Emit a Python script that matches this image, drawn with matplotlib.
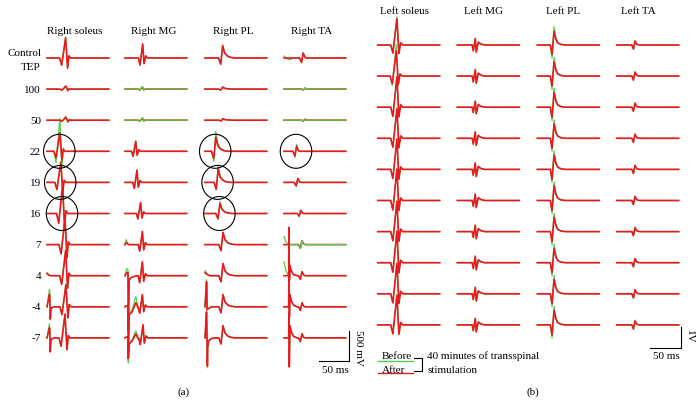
"""Transspinal TEP recordings before/after 40 min stimulation (right & left leg)."""

import numpy as np
import matplotlib

matplotlib.use("Agg")
import matplotlib.pyplot as plt
from matplotlib.patches import Ellipse
from matplotlib.transforms import Affine2D

RED = "#e8191f"
GREEN = "#4fd04a"
FONT = "Liberation Serif"
LW_RED, LW_GREEN = 1.2, 0.9

# ---------------------------------------------------------------- data (a)
RIGHT_ROWS = ["Control", "100", "50", "22", "19", "16", "7", "4", "-4", "-7"]
RIGHT_LABELS = ["Control\nTEP", "100", "50", "22", "19", "16", "7", "4", "-4", "-7"]
RIGHT_MUSCLES = ["Right soleus", "Right MG", "Right PL", "Right TA"]

# response shapes: ms relative to main peak, normalised amplitude
SOL_T = [-10, -6.5, 0, 3.3, 5.5, 8.5]
SOL_V = [0, -0.35, 1, -0.5, 0.1, 0]
MG_T = [-7, -4.5, 0, 2.2, 5, 8]
MG_V = [0, -0.5, 1, -0.4, 0.15, 0]
PL_T = [-7, -3.3, 0, 3.3, 8, 13, 20]
PL_V = [0, -0.5, 1, 0.4, 0.15, 0.05, 0]
TA_T = [-6, -2.7, 0, 3, 6]
TA_V = [0, -0.9, 1, 0.1, 0]

# peak amplitudes (mV) and latencies (ms) per row
R_SOL_AFTER = [330, 50, 50, 300, 330, 460, 430, 410, 360, 390]
R_SOL_BEFORE = [345, 50, 65, 540, 345, 410, 430, 410, 380, 390]
R_SOL_LAT = [31, 31.5, 31.5, 21.5, 23, 26, 30, 31, 31.5, 30]
R_MG_AFTER = [230, 33, 33, 165, 200, 180, 215, 230, 200, 215]
R_MG_BEFORE = [230, 41, 41, 165, 200, 180, 215, 230, 200, 215]
R_MG_LAT = [29.5, 29, 29, 18, 20, 26, 29, 29, 29, 30]
R_PL_AFTER = [200, 33, 25, 230, 215, 165, 200, 200, 200, 200]
R_PL_BEFORE = [215, 33, 25, 330, 260, 200, 200, 200, 200, 200]
R_PL_LAT = [29.5, 29.5, 30, 18, 22, 25, 30, 30, 30, 30]
R_TA_AFTER = [82, 16, 16, 82, 66, 50, 66, 66, 66, 66]
R_TA_BEFORE = [82, 16, 8, 115, 66, 50, 66, 66, 66, 66]
R_TA_LAT = [32, 35, 35, 21, 23, 28, 30, 30, 30, 30]

# stimulus artifacts: row -> (ms from trace start, after mV, before mV)
R_SOL_ART = {
    "4": ([0, 3, 6], [33, 8, 0], [50, 16, 0]),
    "-4": ([0, 4, 4.5, 5.5, 6.5, 8, 12],
           [0, 200, 200, -200, -50, -16, 0], [0, 280, 280, -215, -50, -16, 0]),
    "-7": ([0, 4, 4.5, 5.5, 6.5, 8, 12],
           [0, 165, 150, -230, -50, -16, 0], [0, 230, 200, -200, -50, -16, 0]),
}
R_MG_ART = {
    "7": ([0, 2, 4, 6], [0, 33, 16, 0], [0, 82, 33, 0]),
    "4": ([0, 3, 5, 5.5, 7, 10, 14, 20],
          [0, 50, 50, -900, -66, -33, -16, 0], [0, 115, 100, -900, -66, -33, -16, 0]),
    "-4": ([0, 3, 5, 5.5, 7, 12, 18, 22, 26],
           [0, 16, 16, -850, -130, -82, 66, -16, 0], [0, 16, 16, -820, -100, -50, 165, 0, 0]),
    "-7": ([0, 3, 5, 5.5, 7, 12, 18, 22, 26],
           [0, 16, 16, -330, -100, -50, 66, -16, 0], [0, 16, 16, -410, -82, -33, 115, 0, 0]),
}
R_PL_ART = {
    "4": ([0, 4, 8], [50, 16, 0], [82, 25, 0]),
    "-4": ([0, 2.5, 3, 3.5, 5, 8, 12],
           [0, 410, 330, -50, -33, -16, 0], [0, 443, 360, -50, -33, -16, 0]),
    "-7": ([0, 2.5, 3, 4, 4.5, 6, 10, 14],
           [0, 426, 250, -460, -165, -50, -16, 0], [0, 426, 250, -490, -165, -50, -16, 0]),
}
R_TA_ART = {
    "Control": ([0, 2, 5, 10, 14, 18], [0, 0, 0, 0, 0, 0], [33, 16, -16, -25, -8, 0]),
    "7": ([0, 3, 6, 10], [0, 0, 0, 0], [130, 50, 16, 0]),
    "4": ([0, 3, 6, 7.8, 8.2, 9, 10, 12, 16, 22],
          [0, 0, 0, 0, 790, -80, 165, 82, 16, 0], [230, 82, 25, 8, 790, -80, 165, 82, 16, 0]),
    "-4": ([0, 7.8, 8.2, 9, 10, 12, 16, 22],
           [0, 0, 490, -165, 200, 100, 25, 0], [0, 0, 490, -165, 200, 100, 25, 0]),
    "-7": ([0, 7.8, 8.2, 8.8, 10, 12, 16, 22],
           [0, 0, 410, -475, 200, 100, 25, 0], [0, 0, 410, -475, 200, 100, 25, 0]),
}
# traces where the "before" recording sits on top
GREEN_ON_TOP = [("Right MG", "100"), ("Right MG", "50"), ("Right TA", "100"),
                ("Right TA", "50"), ("Right TA", "7")]
# circled responses
CIRCLED = [("Right soleus", "22"), ("Right soleus", "19"), ("Right soleus", "16"),
           ("Right PL", "22"), ("Right PL", "19"), ("Right PL", "16"), ("Right TA", "22")]

# ---------------------------------------------------------------- data (b)
LEFT_MUSCLES = ["Left soleus", "Left MG", "Left PL", "Left TA"]
LSOL_T = [-10, -6.5, 0, 3.2, 6, 9.5]
LSOL_V = [0, -0.3, 1, -0.32, 0.08, 0]
LMG_T = [-5, -3.2, 0, 1.6, 4.8, 9, 15]
LMG_V = [0, -0.9, 1, -1.1, 0.45, 0.15, 0]
LPL_T = [-6, -3.2, 0, 3, 6, 11, 18]
LPL_V = [0, -0.7, 1, 0.4, 0.15, 0.04, 0]
LTA_T = [-5, -2.5, 0, 2.5, 5, 9]
LTA_V = [0, -1.0, 1, 0.25, 0.05, 0]

# amplitudes in V, latencies in ms (10 sweeps)
L_SOL_AFTER = [1.25, 1.2, 1.45, 1.4, 1.45, 1.5, 1.45, 1.5, 1.45, 1.4]
L_SOL_BEFORE = [1.35, 1.5, 1.45, 1.45, 1.45, 1.5, 1.45, 1.5, 1.45, 1.45]
L_SOL_LAT = [31, 30, 31, 31, 31, 31, 31, 31, 31, 31]
L_MG_AFTER = [0.3, 0.3, 0.28, 0.3, 0.3, 0.3, 0.3, 0.3, 0.3, 0.3]
L_MG_BEFORE = [0.33, 0.34, 0.3, 0.33, 0.33, 0.33, 0.33, 0.33, 0.33, 0.33]
L_MG_LAT = [29, 29, 29, 29, 29, 29, 29, 29, 29, 29]
L_PL_AFTER = [0.65, 0.68, 0.7, 0.68, 0.68, 0.7, 0.68, 0.68, 0.68, 0.7]
L_PL_BEFORE = [0.88, 0.9, 0.9, 0.88, 0.88, 0.88, 0.88, 0.88, 0.88, 0.88]
L_PL_LAT = [27, 27, 27, 27, 27, 27, 27, 27, 27, 27]
L_TA_AFTER = [0.19, 0.19, 0.19, 0.19, 0.19, 0.19, 0.19, 0.19, 0.19, 0.19]
L_TA_BEFORE = [0.21, 0.21, 0.21, 0.21, 0.21, 0.21, 0.21, 0.21, 0.21, 0.21]
L_TA_LAT = [29.5, 29.5, 29.5, 29.5, 29.5, 29.5, 29.5, 29.5, 29.5, 29.5]

# ---------------------------------------------------------------- layout
W, H = 700, 414
A_X0 = [47, 125, 205, 284]          # trace starts, px
A_TITLE_X = [75, 153.7, 232.8, 311.7]
A_Y0, A_DY = 59, 31.1
A_PX_MS, A_PX_MV, A_T_END = 0.6, 30.5 / 500, 103
B_X0 = [377.7, 457.3, 537.3, 616.7]
B_TITLE_X = [405, 483, 563, 638]
B_Y0, B_DY = 46, 31.1
B_PX_MS, B_PX_V, B_T_END = 0.62, 21.0, 100


def build_trace(t_tmpl, v_tmpl, lat, amp, t_end, art_t=None, art_v=None):
    t_resp = np.asarray(t_tmpl, float) + lat
    pieces = [[0.0, t_end], t_resp]
    if art_t is not None:
        pieces.append(art_t)
    t = np.unique(np.concatenate(pieces))
    v = amp * np.interp(t, t_resp, v_tmpl, left=0, right=0)
    if art_t is not None:
        v = v + np.interp(t, art_t, art_v, left=0, right=0)
    return t, v


fig = plt.figure(figsize=(W / 100, H / 100), dpi=100)
ax = fig.add_axes([0, 0, 1, 1])
ax.set_xlim(0, W)
ax.set_ylim(H, 0)
ax.axis("off")

txt = dict(family=FONT, fontsize=8, color="black")

# ---------------------------------------------------------------- panel (a)
right_cols = [
    (SOL_T, SOL_V, R_SOL_AFTER, R_SOL_BEFORE, R_SOL_LAT, R_SOL_ART),
    (MG_T, MG_V, R_MG_AFTER, R_MG_BEFORE, R_MG_LAT, R_MG_ART),
    (PL_T, PL_V, R_PL_AFTER, R_PL_BEFORE, R_PL_LAT, R_PL_ART),
    (TA_T, TA_V, R_TA_AFTER, R_TA_BEFORE, R_TA_LAT, R_TA_ART),
]
for j, (name, (tt, vv, after, before, lat, art)) in enumerate(zip(RIGHT_MUSCLES, right_cols)):
    ax.text(A_TITLE_X[j], 32, name, ha="center", va="center", **txt)
    for i, row in enumerate(RIGHT_ROWS):
        y0 = A_Y0 + i * A_DY
        tr = Affine2D().scale(A_PX_MS, -A_PX_MV).translate(A_X0[j], y0) + ax.transData
        a_t = a_after = a_before = None
        if row in art:
            a_t, a_after, a_before = art[row]
        tb, vb = build_trace(tt, vv, lat[i], before[i], A_T_END, a_t, a_before)
        ta, va = build_trace(tt, vv, lat[i], after[i], A_T_END, a_t, a_after)
        top = (name, row) in GREEN_ON_TOP
        ax.plot(tb, vb, color=GREEN, lw=LW_GREEN, transform=tr, zorder=3 if top else 2)
        ax.plot(ta, va, color=RED, lw=LW_RED, transform=tr, zorder=2 if top else 3)
        if (name, row) in CIRCLED:
            cx = A_X0[j] + (lat[i] - 1) * A_PX_MS
            ax.add_patch(Ellipse((cx, y0), 31.5, 34, fill=False, ec="black", lw=0.8, zorder=4))

for i, lab in enumerate(RIGHT_LABELS):
    y0 = A_Y0 + i * A_DY
    if "\n" in lab:
        ax.text(41.5, y0 - 5, "Control", ha="right", va="center", **txt)
        ax.text(41, y0 + 9, "TEP", ha="right", va="center", **txt)
    else:
        ax.text(41, y0, lab, ha="right", va="center", **txt)

# scale bar (a)
ax.plot([319.3, 349.3, 349.3], [362, 362, 331.5], color="black", lw=0.8)
ax.text(359, 348, "500 mV", rotation=-90, ha="center", va="center", **txt)
ax.text(335.5, 371, "50 ms", ha="center", va="center", **txt)
ax.text(183.3, 392.5, "(a)", ha="center", va="center", **txt)

# ---------------------------------------------------------------- panel (b)
left_cols = [
    (LSOL_T, LSOL_V, L_SOL_AFTER, L_SOL_BEFORE, L_SOL_LAT),
    (LMG_T, LMG_V, L_MG_AFTER, L_MG_BEFORE, L_MG_LAT),
    (LPL_T, LPL_V, L_PL_AFTER, L_PL_BEFORE, L_PL_LAT),
    (LTA_T, LTA_V, L_TA_AFTER, L_TA_BEFORE, L_TA_LAT),
]
for j, (name, (tt, vv, after, before, lat)) in enumerate(zip(LEFT_MUSCLES, left_cols)):
    ax.text(B_TITLE_X[j], 11.5, name, ha="center", va="center", **txt)
    for i in range(len(after)):
        y0 = B_Y0 + i * B_DY
        tr = Affine2D().scale(B_PX_MS, -B_PX_V).translate(B_X0[j], y0) + ax.transData
        tb, vb = build_trace(tt, vv, lat[i], before[i], B_T_END)
        ta, va = build_trace(tt, vv, lat[i], after[i], B_T_END)
        ax.plot(tb, vb, color=GREEN, lw=LW_GREEN, transform=tr, zorder=2)
        ax.plot(ta, va, color=RED, lw=LW_RED, transform=tr, zorder=3)

# scale bar (b)
ax.plot([650, 681, 681], [349.3, 349.3, 328.3], color="black", lw=0.8)
ax.text(689, 337, "1V", rotation=-90, ha="center", va="center", **txt)
ax.text(666, 357, "50 ms", ha="center", va="center", **txt)

# legend (b)
ax.text(396.5, 356.5, "Before", ha="center", va="center", **txt)
ax.plot([378, 412.7], [361.7, 361.7], color=GREEN, lw=1.0)
ax.text(393.5, 370.5, "After", ha="center", va="center", **txt)
ax.plot([378, 412.7], [374.3, 374.3], color=RED, lw=1.0)
ax.plot([414, 422.3, 422.3, 414], [359.3, 359.3, 371.7, 371.7], color="black", lw=0.8)
ax.text(427.3, 356.5, "40 minutes of transspinal", ha="left", va="center", **txt)
ax.text(427.3, 370.5, "stimulation", ha="left", va="center", **txt)
ax.text(533.3, 392.5, "(b)", ha="center", va="center", **txt)

fig.savefig("out.png", dpi=100)
plt.close(fig)
